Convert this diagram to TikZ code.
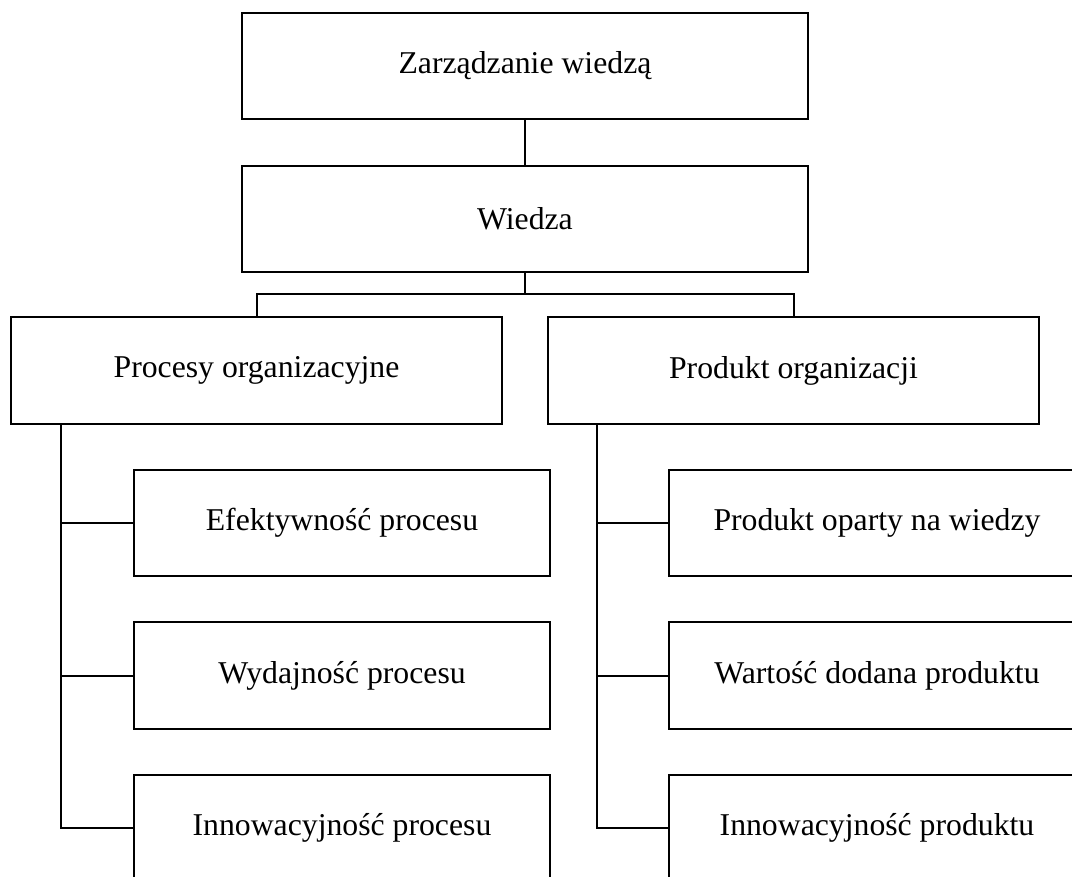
\documentclass[tikz,border=0pt]{standalone}
\usepackage{fontspec}
\setmainfont{Liberation Serif}
\begin{document}
\begin{tikzpicture}[x=0.75pt,y=-0.75pt,
  line width=1.5pt,
  box/.style={draw, rectangle, inner sep=0pt, outer sep=0pt,
    font=\fontsize{23.8}{28}\selectfont, minimum height=80pt},
  topbox/.style={box, minimum width=424.5pt},
  midbox/.style={box, minimum width=368.25pt},
  leafbox/.style={box, minimum width=312pt}]
\useasboundingbox (0,0) rectangle (1072,876);
\clip (0,0) rectangle (1072,876);

% top of the hierarchy
\node[topbox] (zw) at (525,66) {Zarządzanie wiedzą};
\node[topbox] (w) at (525,219) {Wiedza};

% second level
\node[midbox] (po) at (256.5,370.5) {Procesy organizacyjne};
\node[midbox] (pr) at (793.5,370.5) {Produkt organizacji};

% leaves under processes
\node[leafbox] (ep) at (342,523) {Efektywność procesu};
\node[leafbox] (wp) at (342,675.5) {Wydajność procesu};
\node[leafbox] (ip) at (342,828) {Innowacyjność procesu};

% leaves under product
\node[leafbox] (pw) at (877,523) {Produkt oparty na wiedzy};
\node[leafbox] (wd) at (877,675.5) {Wartość dodana produktu};
\node[leafbox] (ipr) at (877,828) {Innowacyjność produktu};

% connectors
\coordinate (bus) at (525,294);
\coordinate (tl) at (61,828);
\coordinate (tr) at (597,828);

\draw (zw.south) -- (w.north);
\draw (w.south) -- (bus);
\draw (po.north) |- (bus) -| (pr.north);

\draw (po.south -| tl) |- (ip.west);
\draw (tl |- ep.west) -- (ep.west);
\draw (tl |- wp.west) -- (wp.west);

\draw (pr.south -| tr) |- (ipr.west);
\draw (tr |- pw.west) -- (pw.west);
\draw (tr |- wd.west) -- (wd.west);
\end{tikzpicture}
\end{document}
